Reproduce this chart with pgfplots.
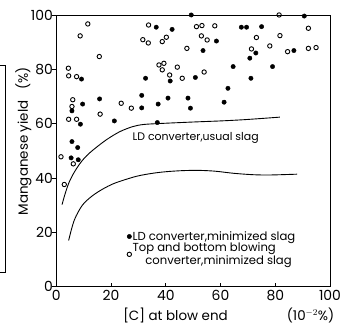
\documentclass[border=0pt]{standalone}
\usepackage{fontspec}
\setmainfont{Poppins}
\usepackage{pgfplots}
\pgfplotsset{compat=1.18}
\begin{document}
\begin{tikzpicture}
\begin{axis}[
  scale only axis, width=274bp, height=272bp,
  xmin=0, xmax=100, ymin=0, ymax=100,
  xtick={0,20,...,100}, ytick={0,20,...,100},
  xtick pos=bottom, ytick pos=left,
  major tick length=4bp,
  y tick style={xshift=-4bp},
  tick style={black, line width=0.8pt},
  axis line style={line width=0.9pt},
  tick label style={font=\fontsize{14}{16}\selectfont},
  /pgf/number format/assume math mode=true,
  clip=false,
  xlabel={[C] at blow end\hspace{4.4em}(10$^{-2}$\%)},
  ylabel={Manganese yield\hspace{0.8em}(\%)},
  label style={font=\fontsize{13.5}{15}\selectfont},
  xlabel style={at={(axis description cs:0.63,-0.107)}, anchor=center},
  ylabel style={at={(axis description cs:-0.12,0.535)}, anchor=center},
  legend style={at={(axis cs:25.8,20.8)}, anchor=north west, draw=none, fill=none,
    font=\fontsize{11.7}{12}\selectfont, row sep=-1bp, inner sep=0pt,
    nodes={align=left, inner sep=1pt}},
  legend cell align=left,
]
% invisible frame fixing the picture's extent
\path (axis cs:-20.44,105.51) rectangle (axis cs:106.57,-13.97);
% scan bracket at the left edge
\draw[line width=0.8pt] (axis cs:-20.44,81.3) -- (axis cs:-18.6,81.3) -- (axis cs:-18.6,5.1) -- (axis cs:-20.44,5.1);

\addplot[only marks, mark=*, mark size=2.2bp, black] coordinates {
(9.2,76.4) (32.6,76.7) (5.7,64.7) (9.6,67.2) (15.8,69.1) (21.2,61)
(31.2,65.8) (31.2,70.4) (8.8,59.8) (5.7,53.4) (7.8,51.2) (5.4,47.4)
(8.0,46.7) (36.5,95.5) (42.3,94.7) (41.6,75.7) (40.8,69.4) (37.2,67.2)
(36.9,60.4) (49.3,100) (67.6,95.5) (69.5,95.5) (58.5,90.4) (53.6,86.9)
(64.6,81) (50.8,77) (62.7,73) (48.1,69.4) (49.0,65.7) (61.3,67.9)
(90.6,99.6) (75,95.7) (72.9,86) (70.7,84.1) (86.8,86.9) (79,81) (71.1,76.7)
};
\addlegendentry{LD converter,minimized slag}
\addplot[only marks, mark=o, mark size=2.2bp, black, mark options={line width=0.9pt}] coordinates {
(11.5,96.7) (8.7,92.3) (15.7,84.7) (4.4,80.4) (4.5,77.6) (7.4,77.3)
(31.6,90.9) (33.6,89.7) (33.7,96.3) (6.0,68.8) (5.7,66.3) (16,63.5)
(23.7,67.5) (27.4,65.7) (4.5,61.6) (7.4,61.6) (1.7,47.8) (6.2,45.2)
(2.9,37.6) (38.7,90.2) (40.2,91.8) (37.5,81.6) (39.3,82.2) (38.7,79.8)
(41.4,77.9) (51.2,95.7) (53.2,96.1) (57.9,96) (53,92.3) (55.1,90.8)
(47.7,87.7) (44.2,80.8) (54,79) (46,76.7) (81.4,100) (92.1,95.1)
(73.1,91.7) (81.7,92.4) (71.3,87.5) (78,88.6) (84.5,86.5) (92.1,87.7) (94.9,88)
};
\addlegendentry{Top and bottom blowing\\\hspace*{1.1em}converter,minimized slag}

\addplot[black, line width=0.9pt, smooth, forget plot] coordinates {
(2.1,30.2) (3,33.5) (4.5,38) (6.2,41.5) (8.4,45) (10.5,47.6) (13.3,50.2)
(18.2,54) (23.1,57) (27.9,58.9) (32,59.7) (38.9,60.1) (50,60.6) (60,61)
(67.7,61.4) (75,61.9) (81.7,62.4)
};
\addplot[black, line width=0.9pt, smooth, forget plot] coordinates {
(4.5,17) (5.5,21) (6.6,24.6) (8,27.5) (9.6,30.1) (12,32.5) (14.5,34.4)
(18,36.5) (21.9,38.3) (29.2,40.6) (35,41.7) (40,42.3) (46,42.7) (52,42.8)
(58,42.5) (65,41.7) (72,41.2) (78,41.1) (88,41.4)
};
\node[font=\fontsize{11}{13}\selectfont] at (axis cs:50.9,54.8) {LD converter,usual slag};
\end{axis}
\end{tikzpicture}
\end{document}
